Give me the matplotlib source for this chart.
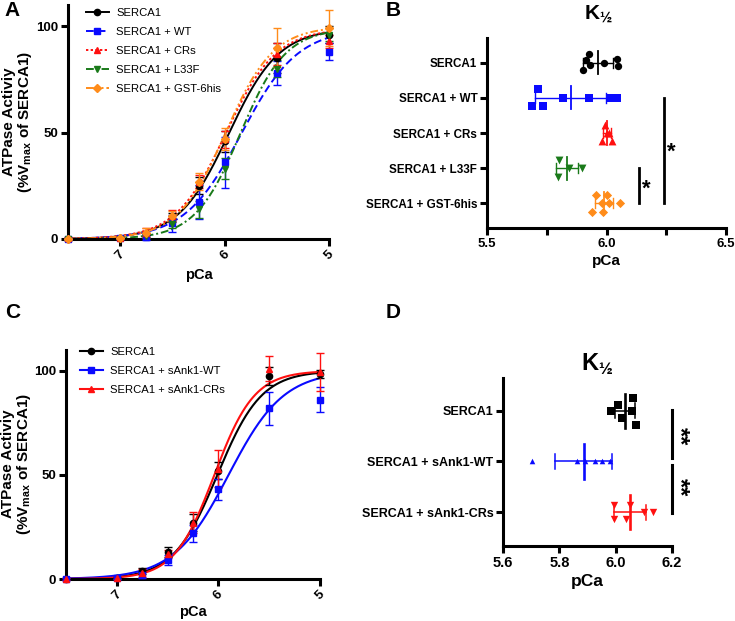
import numpy as np
import matplotlib
matplotlib.use("Agg")
import matplotlib.pyplot as plt
from matplotlib.lines import Line2D

plt.rcParams["font.family"] = ["Liberation Sans", "DejaVu Sans"]
plt.rcParams["mathtext.fontset"] = "custom"
plt.rcParams["mathtext.rm"] = "Liberation Sans"
plt.rcParams["mathtext.bf"] = "Liberation Sans:bold"

W, H = 735, 621

# ---- panel A / C : activity vs pCa (mean, SD) ----
PCA = [7.5, 7.0, 6.75, 6.5, 6.25, 6.0, 5.5, 5.0]

A_LABELS = ["SERCA1", "SERCA1 + WT", "SERCA1 + CRs", "SERCA1 + L33F", "SERCA1 + GST-6his"]
A_MEAN = [
    [0, 0.5, 2, 10, 25, 46, 85, 96],
    [0, 0.3, 1, 7.5, 17.5, 36, 78, 88],
    [0.5, 0.5, 3, 11, 27, 47, 87, 93],
    [0, 0.2, 1.5, 7, 14, 33, 80, 96],
    [0, 0.5, 3, 11, 27, 47, 90, 99],
]
A_SD = [
    [0.5, 0.5, 1, 2, 4, 5, 7, 4],
    [0.3, 0.3, 1.5, 4, 8, 12, 5.5, 4],
    [0.5, 0.5, 2, 2.5, 3, 4, 5, 3],
    [0.3, 0.3, 1, 2, 4, 5, 4, 3],
    [0.5, 0.5, 2, 2, 4, 5, 9, 8.5],
]
# Hill fit parameters (pK, nH, Vmax)
A_FIT = [(5.96, 1.8, 99), (5.84, 1.6, 99), (5.99, 1.8, 99), (5.85, 2.0, 99), (5.99, 1.9, 100)]

C_LABELS = ["SERCA1", "SERCA1 + sAnk1-WT", "SERCA1 + sAnk1-CRs"]
C_MEAN = [
    [0, 0.5, 4, 13, 27, 52, 97.5, 98.5],
    [0, 0.3, 2, 9, 22, 43, 82, 86],
    [0, 0.5, 3, 12, 27, 53, 101, 99.5],
]
C_SD = [
    [0.3, 0.5, 1.5, 2.5, 4, 4, 4.5, 2],
    [0.3, 0.3, 1.5, 2.5, 4, 5, 8, 6],
    [0.3, 0.5, 2, 2, 5, 9, 6, 9],
]
C_FIT = [(6.01, 2.0, 100), (5.90, 1.6, 100), (6.04, 2.2, 100)]

# ---- panel B / D : K1/2 per replicate ----
B_GROUPS = ["SERCA1", "SERCA1 + WT", "SERCA1 + CRs", "SERCA1 + L33F", "SERCA1 + GST-6his"]
B_VALUES = [
    [5.925, 5.915, 5.93, 5.90, 5.99, 6.045, 6.05],
    [5.715, 5.69, 5.736, 5.817, 5.928, 6.02, 6.045],
    [5.995, 5.98, 6.022, 6.0, 6.01],
    [5.80, 5.795, 5.845, 5.897],
    [5.957, 6.002, 5.94, 5.987, 5.98, 6.012, 6.057],
]
D_GROUPS = ["SERCA1", "SERCA1 + sAnk1-WT", "SERCA1 + sAnk1-CRs"]
D_VALUES = [
    [5.982, 6.009, 6.021, 6.057, 6.060, 6.071],
    [5.702, 5.862, 5.891, 5.927, 5.953, 5.980],
    [5.995, 6.051, 5.994, 6.036, 6.101, 6.134],
]

# layout / style
A_STYLE = [
    dict(color="black", ls="-", marker="o"),
    dict(color="#0a0aff", ls=(0, (4, 2)), marker="s"),
    dict(color="#ff1010", ls=(0, (1.2, 1.2)), marker="^"),
    dict(color="#1a7a1a", ls=(0, (4, 1.5, 1, 1.5)), marker="v"),
    dict(color="#ff8c1a", ls=(0, (4, 1.5, 1, 1.5, 1, 1.5)), marker="D"),
]
C_STYLE = [
    dict(color="black", ls="-", marker="o"),
    dict(color="#0a0aff", ls="-", marker="s"),
    dict(color="#ff1010", ls="-", marker="^"),
]
B_STYLE = [("black", "o", 28), ("#0a0aff", "s", 32), ("#ff1010", "^", 32),
           ("#1a7a1a", "v", 32), ("#ff8c1a", "D", 22)]
B_JITTER = [
    [-0.24, -0.08, 0.06, 0.22, 0.0, -0.1, 0.1],
    [-0.24, 0.24, 0.24, 0, 0, 0, 0],
    [-0.24, 0.22, 0.22, 0, 0],
    [-0.24, 0.24, 0, 0],
    [-0.24, -0.24, 0.24, 0.24, 0, 0, 0],
]
D_STYLE = [("black", "s", 26), ("#0a0aff", "^", 16), ("#ff1010", "v", 28)]
D_JITTER = [
    [0, -0.12, 0.14, 0, -0.25, 0.28],
    [0, 0, 0, 0, 0, 0],
    [-0.14, -0.14, 0.14, 0.14, 0, 0],
]

SPINE_W = 2.2


def px_axes(fig, left, top, right, bottom):
    return fig.add_axes([left / W, 1 - bottom / H, (right - left) / W, (bottom - top) / H])


def style_axes(ax, labelsize):
    for s in ("top", "right"):
        ax.spines[s].set_visible(False)
    for s in ("left", "bottom"):
        ax.spines[s].set_linewidth(SPINE_W)
    ax.tick_params(width=SPINE_W, length=5, labelsize=labelsize, pad=2)
    ax.tick_params(which="minor", width=SPINE_W, length=5)


def bold_ticks(ax):
    for lab in ax.get_xticklabels() + ax.get_yticklabels():
        lab.set_fontweight("bold")


def hill(pca, pk, n, vmax):
    return vmax / (1 + 10 ** (n * (pca - pk)))


def curve_panel(ax, means, sds, fits, styles, labels, legend_xy, lw_curve):
    xs = np.linspace(7.5, 5.0, 300)
    handles = []
    for mean, sd, fit, st, lab in zip(means, sds, fits, styles, labels):
        ax.plot(xs, hill(xs, *fit), color=st["color"], ls=st["ls"], lw=lw_curve, zorder=2)
        ax.errorbar(PCA, mean, yerr=sd, fmt=st["marker"], color=st["color"], ms=4.5,
                    elinewidth=1.0, capsize=3, capthick=1.0, clip_on=False, zorder=3)
        handles.append(Line2D([], [], color=st["color"], ls=st["ls"], lw=lw_curve,
                              marker=st["marker"], ms=4.5))
    ax.set_xlim(7.5, 5.0)
    ax.set_ylim(0, 110)
    ax.set_xticks([7, 6, 5])
    ax.set_xticklabels(["7", "6", "5"], rotation=45, ha="center")
    ax.set_yticks([0, 50, 100])
    style_axes(ax, 9.5)
    bold_ticks(ax)
    leg = ax.legend(handles, labels, loc="upper left",
                    bbox_to_anchor=(legend_xy[0] / W, 1 - legend_xy[1] / H),
                    bbox_transform=ax.figure.transFigure, frameon=False, fontsize=8.1,
                    borderpad=0, borderaxespad=0, handlelength=2.0, handletextpad=0.7,
                    labelspacing=0.8)
    return leg


def dot_panel(ax, values, styles, jitter, half_mean, half_cap, mean_lw, sd_lw):
    for i, (vals, (col, mk, s), jit) in enumerate(zip(values, styles, jitter)):
        vals = np.asarray(vals)
        ax.scatter(vals, i + np.asarray(jit), marker=mk, s=s, color=col,
                   linewidths=0, zorder=3, clip_on=False)
        m, sd = vals.mean(), vals.std(ddof=1)
        ax.plot([m, m], [i - half_mean, i + half_mean], color=col, lw=mean_lw, zorder=4)
        ax.plot([m - sd, m + sd], [i, i], color=col, lw=sd_lw, zorder=4)
        for e in (m - sd, m + sd):
            ax.plot([e, e], [i - half_cap, i + half_cap], color=col, lw=sd_lw, zorder=4)


fig = plt.figure(figsize=(W / 100, H / 100), dpi=100)

YLAB = "ATPase Activiy\n(%V$_{\\mathregular{max}}$ of SERCA1)"

# ---------- A ----------
axA = px_axes(fig, 68, 5, 329, 239)
curve_panel(axA, A_MEAN, A_SD, A_FIT, A_STYLE, A_LABELS, (86, 8), 1.4)
axA.set_xlabel("pCa", fontsize=10.5, fontweight="bold", labelpad=4)
fig.text(18 / W, 1 - 122 / H, YLAB, rotation=90, ha="center", va="center",
         fontsize=11, fontweight="bold", linespacing=1.05)

# ---------- C ----------
axC = px_axes(fig, 66, 350, 320, 579)
curve_panel(axC, C_MEAN, C_SD, C_FIT, C_STYLE, C_LABELS, (80, 347), 1.5)
axC.set_xlabel("pCa", fontsize=10.5, fontweight="bold", labelpad=2)
fig.text(17 / W, 1 - 464 / H, YLAB, rotation=90, ha="center", va="center",
         fontsize=11, fontweight="bold", linespacing=1.05)

# ---------- B ----------
axB = px_axes(fig, 487, 38, 726, 228)
dot_panel(axB, B_VALUES, B_STYLE, B_JITTER, 0.33, 0.14, 1.3, 1.0)
axB.set_xlim(5.5, 6.5)
axB.set_ylim(4.7, -0.7)
axB.set_xticks([5.5, 6.0, 6.5])
axB.set_xticks([5.75, 6.25], minor=True)
axB.set_yticks(range(len(B_GROUPS)))
axB.set_yticklabels(B_GROUPS)
style_axes(axB, 8.4)
axB.tick_params(axis="x", labelsize=9.5)
bold_ticks(axB)
axB.set_xlabel("pCa", fontsize=11, fontweight="bold", labelpad=3)
axB.plot([6.24, 6.24], [1, 4], color="black", lw=2, clip_on=False)
axB.plot([6.135, 6.135], [3, 4], color="black", lw=2, clip_on=False)
axB.text(6.27, 2.55, "*", fontsize=16, fontweight="bold", ha="center", va="center")
axB.text(6.165, 3.6, "*", fontsize=16, fontweight="bold", ha="center", va="center")
fig.text(598 / W, 1 - 15 / H, "K$_{\\mathregular{\u00bd}}$", fontsize=15,
         fontweight="bold", ha="center", va="center")

# ---------- D ----------
axD = px_axes(fig, 503, 378, 672, 546)
dot_panel(axD, D_VALUES, D_STYLE, D_JITTER, 0.34, 0.15, 1.9, 1.1)
axD.set_xlim(5.6, 6.2)
axD.set_ylim(2.67, -0.65)
axD.set_xticks([5.6, 5.8, 6.0, 6.2])
axD.set_xticklabels(["5.6", "5.8", "6.0", "6.2"])
axD.set_yticks(range(len(D_GROUPS)))
axD.set_yticklabels(D_GROUPS)
style_axes(axD, 9)
axD.tick_params(axis="x", labelsize=10.5)
bold_ticks(axD)
axD.set_xlabel("pCa", fontsize=12.5, fontweight="bold", labelpad=3)
axD.plot([6.2, 6.2], [-0.02, 0.94], color="black", lw=2.2, clip_on=False)
axD.plot([6.2, 6.2], [1.06, 2.02], color="black", lw=2.2, clip_on=False)
for yc in (0.5, 1.5):
    axD.text(6.228, yc, "**", fontsize=17, fontweight="bold", ha="center", va="center",
             rotation=270)
fig.text(597 / W, 1 - 364 / H, "K$_{\\mathregular{\u00bd}}$", fontsize=17,
         fontweight="bold", ha="center", va="center")

# panel letters
for letter, (x, y) in {"A": (12, 10), "B": (393, 10), "C": (13, 313), "D": (393, 313)}.items():
    fig.text(x / W, 1 - y / H, letter, fontsize=15, fontweight="bold", ha="center", va="center")

fig.savefig("out.png", dpi=100)
